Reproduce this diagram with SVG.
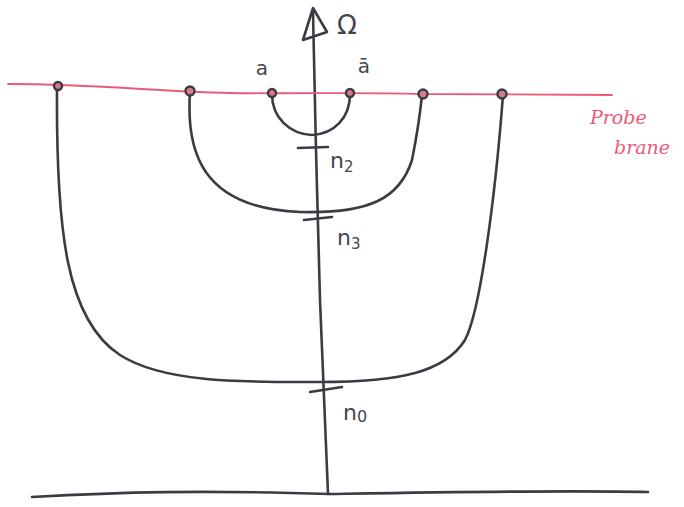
<svg xmlns="http://www.w3.org/2000/svg" width="684" height="507" viewBox="0 0 684 507">
<style>
.ink{fill:none;stroke:#3b3b44;stroke-width:2.6;stroke-linecap:round;stroke-linejoin:round}
.red{fill:none;stroke:#ec5a78;stroke-width:1.8;stroke-linecap:round}
.dot{fill:#d87a88;stroke:#3b3b44;stroke-width:2.4}
.lbl{font-family:"DejaVu Sans",sans-serif;fill:#45454d}
.rt{font-family:"DejaVu Serif",serif;font-style:italic;fill:#ec5a78;font-size:19px}
</style>
<rect width="684" height="507" fill="#fff"/>
<g id="connectors">
<path class="ink" d="M313,12 L316,150 L320,300 L328,494"/>
<path class="ink" d="M313,8 L303,40 L327,32 Z"/>
<path class="ink" d="M32,497 C120,492 200,490 330,494 C450,492 560,490 648,492"/>
<path class="red" d="M8,84 C100,84 160,92 230,93 C300,94 360,92 420,94 C500,94 560,95 612,95"/>
<path class="ink" d="M272,94 C272,118 290,134 312,135 C334,134 350,118 350,94"/>
<path class="ink" d="M190,92 C186,150 200,208 300,212 C370,214 400,198 412,160 C418,130 421,105 422,95"/>
<path class="ink" d="M57,88 C56,230 66,320 120,355 C165,384 250,382 320,382 C400,382 445,372 465,340 C480,312 495,200 503,95"/>
<path class="ink" d="M298,148 L328,147"/>
<path class="ink" d="M304,220 L332,217"/>
<path class="ink" d="M310,392 L342,387"/>
</g>
<g id="dots">
<circle class="dot" cx="58" cy="86" r="4"/>
<circle class="dot" cx="190" cy="91" r="4.5"/>
<circle class="dot" cx="272" cy="93" r="4"/>
<circle class="dot" cx="350" cy="93" r="4"/>
<circle class="dot" cx="423" cy="94" r="4.5"/>
<circle class="dot" cx="502" cy="94" r="4.5"/>
</g>
<g id="labels">
<text class="lbl" x="347" y="34" font-size="26" text-anchor="middle">Ω</text>
<text class="lbl" x="262" y="75" font-size="20" text-anchor="middle">a</text>
<text class="lbl" x="364" y="73" font-size="20" text-anchor="middle">ā</text>
<text class="lbl" x="330" y="168" font-size="22">n<tspan font-size="15" dy="4">2</tspan></text>
<text class="lbl" x="337" y="245" font-size="22">n<tspan font-size="15" dy="4">3</tspan></text>
<text class="lbl" x="343" y="420" font-size="22">n<tspan font-size="16" dy="2">0</tspan></text>
<text class="rt" x="590" y="124">Probe</text>
<text class="rt" x="614" y="154">brane</text>
</g>
</svg>
